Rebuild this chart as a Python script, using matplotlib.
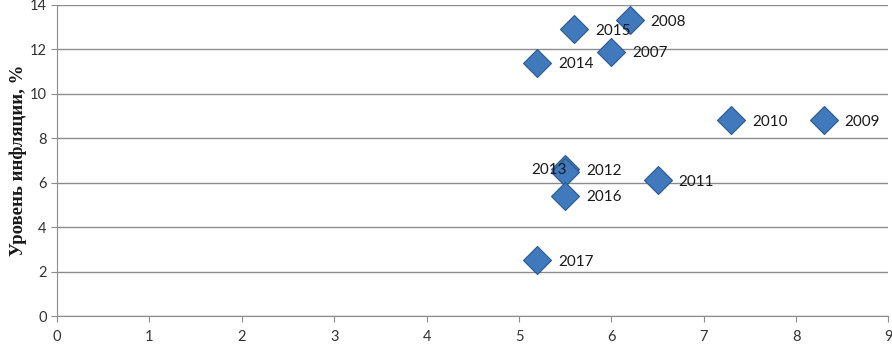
import matplotlib.pyplot as plt

# Безработица (x) и инфляция (y) по годам
years = ['2007', '2008', '2009', '2010', '2011', '2012', '2013', '2014', '2015', '2016', '2017']
unemployment = [6.0, 6.2, 8.3, 7.3, 6.5, 5.5, 5.5, 5.2, 5.6, 5.5, 5.2]
inflation = [11.9, 13.3, 8.8, 8.8, 6.1, 6.6, 6.5, 11.4, 12.9, 5.4, 2.5]

fig = plt.figure(figsize=(8.92, 3.45), dpi=100)
ax = fig.add_axes([0.064, 0.084, 0.932, 0.902])

ax.grid(axis='y', color='#8c8c8c', linewidth=1)
ax.set_axisbelow(True)
ax.plot(unemployment, inflation, linestyle='none', marker='D', markersize=14,
        markerfacecolor='#4179bd', markeredgecolor='#2c5a8e', markeredgewidth=0.8, zorder=3)

for yr, xv, yv in zip(years, unemployment, inflation):
    if yr == '2013':
        ax.annotate(yr, (xv, yv), xytext=(1, 1), textcoords='offset points',
                    ha='right', va='center', fontsize=11, family='Lato', color='#1a1a1a', zorder=4)
    else:
        ax.annotate(yr, (xv, yv), xytext=(15, -1), textcoords='offset points',
                    ha='left', va='center', fontsize=11, family='Lato', color='#1a1a1a', zorder=4)

ax.set_xlim(0, 9)
ax.set_ylim(0, 14)
ax.set_xticks(range(0, 10))
ax.set_yticks(range(0, 15, 2))
for s in ['top', 'right']:
    ax.spines[s].set_visible(False)
for s in ['left', 'bottom']:
    ax.spines[s].set_color('#8c8c8c')
ax.tick_params(colors='#8c8c8c', labelcolor='#333333', labelsize=10.5, length=4)
ax.tick_params(axis='x', pad=6)
for lab in ax.get_xticklabels() + ax.get_yticklabels():
    lab.set_family('Lato')

ax.set_ylabel('Уровень инфляции, %', family='Liberation Serif', fontweight='bold',
              fontsize=13.5, color='#1a1a1a', labelpad=2)

fig.savefig('out.png', dpi=100)
